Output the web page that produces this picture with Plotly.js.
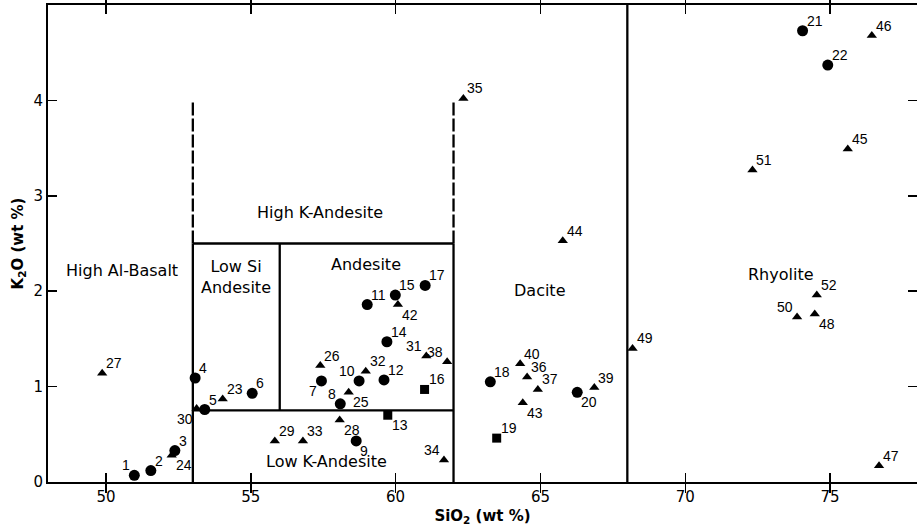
<!DOCTYPE html>
<html>
<head>
<meta charset="utf-8">
<script src="https://cdn.plot.ly/plotly-3.0.1.min.js"></script>
<style>html,body{margin:0;padding:0;background:#fff;}#chart{width:917px;height:528px;}</style>
</head>
<body>
<div id="chart"></div>
<script>
// ---- Data: circles ----
const circleLabels = ['1','2','3','4','5','6','7','8','9','10','11','12','14','15','17','18','20','21','22'];
const circleSiO2   = [50.98,51.55,52.38,53.08,53.41,55.05,57.44,58.09,58.64,58.74,59.02,59.60,59.70,59.99,61.02,63.27,66.27,74.05,74.92];
const circleK2O    = [0.07,0.12,0.33,1.09,0.76,0.93,1.06,0.82,0.43,1.06,1.86,1.07,1.47,1.96,2.06,1.05,0.94,4.73,4.37];
const circlePos    = ['tl','tr','tr','tr','tr','tr','bl','tl','br','tl','tr','tr','tr','tr','tr','tr','br','tr','tr'];

// ---- Data: triangles ----
const triLabels = ['23','24','25','26','27','28','29','30','31','32','33','34','35','36','37','38','39','40','42','43','44','45','46','47','48','49','50','51','52'];
const triSiO2   = [54.03,52.27,58.38,57.40,49.87,58.07,55.83,53.13,61.06,58.97,56.80,61.67,62.34,64.54,64.91,61.78,66.86,64.30,60.08,64.39,65.77,75.61,76.44,76.69,74.47,68.18,73.86,72.32,74.54];
const triK2O    = [0.87,0.28,0.94,1.22,1.14,0.65,0.43,0.77,1.32,1.16,0.43,0.23,4.02,1.10,0.97,1.26,0.99,1.24,1.86,0.83,2.53,3.49,4.68,0.17,1.76,1.40,1.73,3.27,1.96];
const triPos    = ['tr','br','br','tr','tr','br','tr','bl','tl','tr','tr','tl','tr','tr','tr','tl','tr','tr','br','br','tr','tr','tr','tr','br','tr','tl','tr','tr'];

// ---- Data: squares ----
const sqLabels = ['13','16','19'];
const sqSiO2   = [59.73,61.00,63.49];
const sqK2O    = [0.70,0.97,0.46];
const sqPos    = ['br','tr','tr'];

// ---- Field boundaries ----
const solidX  = [53,53,null,62,62,null,53,62,null,56,56,null,53,62,null,68,68];
const solidY  = [0,2.5,null,0,2.5,null,2.5,2.5,null,0.75,2.5,null,0.75,0.75,null,0,5];
const dashedX = [53,53,null,62,62];
const dashedY = [2.5,4,null,2.5,4];

// ---- Field names ----
const regionNames = ['High Al-Basalt','Low Si<br>Andesite','High K-Andesite','Andesite','Dacite','Rhyolite','Low K-Andesite'];
const regionX     = [50.55,54.5,57.4,58.97,64.97,73.3,57.6];
const regionY     = [2.22,2.15,2.83,2.28,2.01,2.18,0.21];

// ---- Axis ticks ----
const xTicks = [50,55,60,65,70,75];
const yTicks = [0,1,2,3,4];

const FONT = 'DejaVu Sans, Verdana, sans-serif';
const LFONT = 'Liberation Sans, Arial, Helvetica, sans-serif';

const traces = [
  {x: solidX, y: solidY, mode: 'lines', line: {color: '#000', width: 2.3}, hoverinfo: 'skip', showlegend: false},
  {x: dashedX, y: dashedY, mode: 'lines', line: {color: '#000', width: 2.3, dash: '13px,3px'}, hoverinfo: 'skip', showlegend: false},
  {x: circleSiO2, y: circleK2O, mode: 'markers', marker: {symbol: 'circle', size: 11, color: '#000'}, showlegend: false, cliponaxis: false},
  {x: triSiO2, y: triK2O, mode: 'markers', marker: {symbol: 'triangle-up', size: 9, color: '#000'}, showlegend: false, cliponaxis: false},
  {x: sqSiO2, y: sqK2O, mode: 'markers', marker: {symbol: 'square', size: 9, color: '#000'}, showlegend: false, cliponaxis: false},
  {x: [null], y: [null], yaxis: 'y2', showlegend: false, hoverinfo: 'skip'}
];

function pointLabels(xs, ys, labels, pos) {
  return labels.map((t, i) => {
    const p = pos[i];
    const right = p[1] === 'r';
    const top = p[0] === 't';
    return {
      x: xs[i], y: ys[i], xref: 'x', yref: 'y', text: t, showarrow: false,
      xanchor: right ? 'left' : 'right', yanchor: 'middle',
      xshift: right ? 3 : -3, yshift: top ? 10 : -10,
      font: {family: LFONT, size: 14, color: '#000'}, borderpad: 0
    };
  });
}

const annotations = regionNames.map((t, i) => ({
  x: regionX[i], y: regionY[i], xref: 'x', yref: 'y', text: t, showarrow: false,
  font: {family: FONT, size: 16, color: '#000'}, align: 'center'
})).concat(
  pointLabels(circleSiO2, circleK2O, circleLabels, circlePos),
  pointLabels(triSiO2, triK2O, triLabels, triPos),
  pointLabels(sqSiO2, sqK2O, sqLabels, sqPos)
);

const layout = {
  width: 917, height: 528,
  margin: {l: 48, r: 0, t: 5, b: 46},
  paper_bgcolor: '#fff', plot_bgcolor: '#fff',
  font: {family: FONT, color: '#000'},
  xaxis: {
    range: [48, 78], tickvals: xTicks, ticktext: xTicks.map(String),
    ticks: 'inside', ticklen: 9, tickwidth: 1.5, tickcolor: '#000',
    showline: true, linecolor: '#000', linewidth: 2, mirror: 'allticks',
    showgrid: false, zeroline: false,
    tickfont: {family: FONT, size: 15, color: '#000'},
    title: {text: '<b>SiO<sub>2</sub> (wt %)</b>', font: {family: FONT, size: 15, color: '#000'}, standoff: 5}
  },
  yaxis: {
    range: [0, 5], tickvals: yTicks, ticktext: yTicks.map(String),
    ticks: 'inside', ticklen: 9, tickwidth: 1.5, tickcolor: '#000',
    showline: true, linecolor: '#000', linewidth: 2,
    showgrid: false, zeroline: false,
    tickfont: {family: FONT, size: 15, color: '#000'},
    title: {text: '<b>K<sub>2</sub>O (wt %)</b>', font: {family: FONT, size: 15, color: '#000'}, standoff: 6}
  },
  yaxis2: {
    overlaying: 'y', side: 'right', range: [0, 5], tickvals: yTicks,
    ticks: 'inside', ticklen: 9, tickwidth: 1.5, tickcolor: '#000',
    showticklabels: false, showline: false, showgrid: false, zeroline: false
  },
  annotations: annotations
};

Plotly.newPlot('chart', traces, layout, {displayModeBar: false, staticPlot: true});
</script>
</body>
</html>
